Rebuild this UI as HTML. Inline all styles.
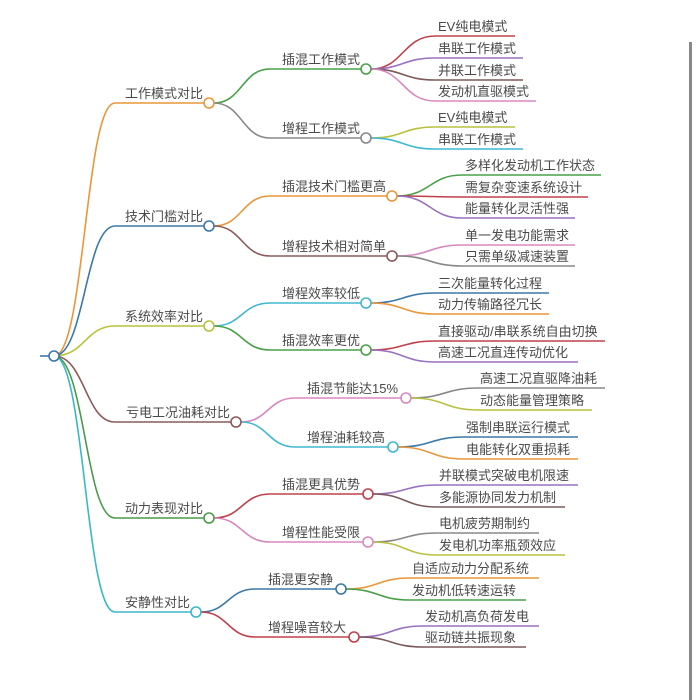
<!DOCTYPE html>
<html><head><meta charset="utf-8"><style>
html,body{margin:0;padding:0;background:#fff;}
svg{display:block;}
text{font-family:"Liberation Sans","Noto Sans CJK SC",sans-serif;font-size:13px;fill:#4a4a4a;}
path{fill:none;stroke-width:1.6;}
circle{fill:#fff;stroke-width:1.6;}
</style></head><body>
<svg width="700" height="700" viewBox="0 0 700 700">
<rect x="689" y="42" width="3" height="658" fill="#888"/>
<!-- root -->
<path d="M40 356 L49 356" stroke="#3a78a8"/>
<path d="M54 356 C85 356,85 103,115 103 L204 103" stroke="#e8973a"/>
<path d="M54 356 C85 356,85 226,115 226 L204 226" stroke="#3a78a8"/>
<path d="M54 356 C85 356,85 326,115 326 L204 326" stroke="#b8c23a"/>
<path d="M54 356 C85 356,85 422,115 422 L231 422" stroke="#8b5a5a"/>
<path d="M54 356 C85 356,85 518,115 518 L204 518" stroke="#4a9a4a"/>
<path d="M54 356 C85 356,85 612,115 612 L191 612" stroke="#3ab8c8"/>
<circle cx="54" cy="356" r="5" stroke="#3a78a8"/>
<text x="203" y="98" text-anchor="end">工作模式对比</text>
<text x="203" y="221" text-anchor="end">技术门槛对比</text>
<text x="203" y="321" text-anchor="end">系统效率对比</text>
<text x="230" y="417" text-anchor="end">亏电工况油耗对比</text>
<text x="203" y="513" text-anchor="end">动力表现对比</text>
<text x="190" y="607" text-anchor="end">安静性对比</text>

<!-- G1 -->
<path d="M214 103 C242 103,242 69,270 69 L361 69" stroke="#4aa04a"/>
<path d="M214 103 C242 103,242 138,270 138 L361 138" stroke="#888"/>
<text x="282" y="64">插混工作模式</text>
<text x="282" y="133">增程工作模式</text>
<path d="M371 69 C403 69,403 36,435 36 L515 36" stroke="#c0404a"/>
<path d="M371 69 C403 69,403 58,435 58 L523 58" stroke="#9a70c0"/>
<path d="M371 69 C403 69,403 80,435 80 L523 80" stroke="#7a5a5a"/>
<path d="M371 69 C403 69,403 101,435 101 L536 101" stroke="#d888c0"/>
<path d="M371 138 C403 138,403 127,435 127 L515 127" stroke="#b8c040"/>
<path d="M371 138 C403 138,403 149,435 149 L523 149" stroke="#40b8d0"/>
<circle cx="366" cy="69" r="5" stroke="#4aa04a"/>
<circle cx="366" cy="138" r="5" stroke="#888"/>
<text x="438" y="31">EV纯电模式</text>
<text x="438" y="53">串联工作模式</text>
<text x="438" y="75">并联工作模式</text>
<text x="438" y="96">发动机直驱模式</text>
<text x="438" y="122">EV纯电模式</text>
<text x="438" y="144">串联工作模式</text>

<!-- G2 -->
<path d="M214 226 C242 226,242 196,270 196 L387 196" stroke="#e8973a"/>
<path d="M214 226 C242 226,242 256,270 256 L387 256" stroke="#8b5a5a"/>
<text x="282" y="191">插混技术门槛更高</text>
<text x="282" y="251">增程技术相对简单</text>
<path d="M397 196 C430 196,430 175,462 175 L601 175" stroke="#4aa04a"/>
<path d="M397 196 C430 196,430 197,462 197 L588 197" stroke="#c0404a"/>
<path d="M397 196 C430 196,430 218,462 218 L575 218" stroke="#9a70c0"/>
<path d="M397 256 C430 256,430 245,462 245 L575 245" stroke="#d888c0"/>
<path d="M397 256 C430 256,430 266,462 266 L575 266" stroke="#888"/>
<circle cx="392" cy="196" r="5" stroke="#e8973a"/>
<circle cx="392" cy="256" r="5" stroke="#8b5a5a"/>
<text x="465" y="170">多样化发动机工作状态</text>
<text x="465" y="192">需复杂变速系统设计</text>
<text x="465" y="213">能量转化灵活性强</text>
<text x="465" y="240">单一发电功能需求</text>
<text x="465" y="261">只需单级减速装置</text>

<!-- G3 -->
<path d="M214 326 C242 326,242 303,270 303 L361 303" stroke="#40b8d0"/>
<path d="M214 326 C242 326,242 350,270 350 L361 350" stroke="#4aa04a"/>
<text x="282" y="298">增程效率较低</text>
<text x="282" y="345">插混效率更优</text>
<path d="M371 303 C403 303,403 293,435 293 L549 293" stroke="#3a78a8"/>
<path d="M371 303 C403 303,403 314,435 314 L549 314" stroke="#e8973a"/>
<path d="M371 350 C403 350,403 341,435 341 L605 341" stroke="#c0404a"/>
<path d="M371 350 C403 350,403 362,435 362 L578 362" stroke="#9a70c0"/>
<circle cx="366" cy="303" r="5" stroke="#40b8d0"/>
<circle cx="366" cy="350" r="5" stroke="#4aa04a"/>
<text x="438" y="288">三次能量转化过程</text>
<text x="438" y="309">动力传输路径冗长</text>
<text x="438" y="336">直接驱动/串联系统自由切换</text>
<text x="438" y="357">高速工况直连传动优化</text>

<!-- G4 -->
<path d="M241 422 C268 422,268 398,295 398 L401 398" stroke="#d888c0"/>
<path d="M241 422 C268 422,268 447,295 447 L388 447" stroke="#40b8d0"/>
<text x="307" y="393">插混节能达15%</text>
<text x="307" y="442">增程油耗较高</text>
<path d="M411 398 C445 398,445 388,478 388 L605 388" stroke="#888"/>
<path d="M411 398 C445 398,445 410,478 410 L592 410" stroke="#b8c040"/>
<path d="M398 447 C431 447,431 437,464 437 L578 437" stroke="#3a78a8"/>
<path d="M398 447 C431 447,431 459,464 459 L578 459" stroke="#e8973a"/>
<circle cx="406" cy="398" r="5" stroke="#d888c0"/>
<circle cx="393" cy="447" r="5" stroke="#40b8d0"/>
<text x="480" y="383">高速工况直驱降油耗</text>
<text x="480" y="405">动态能量管理策略</text>
<text x="466" y="432">强制串联运行模式</text>
<text x="466" y="454">电能转化双重损耗</text>

<!-- G5 -->
<path d="M214 518 C242 518,242 494,270 494 L363 494" stroke="#c0404a"/>
<path d="M214 518 C242 518,242 542,270 542 L363 542" stroke="#d888c0"/>
<text x="282" y="489">插混更具优势</text>
<text x="282" y="537">增程性能受限</text>
<path d="M373 494 C405 494,405 485,437 485 L578 485" stroke="#9a70c0"/>
<path d="M373 494 C405 494,405 507,437 507 L565 507" stroke="#7a5a5a"/>
<path d="M373 542 C405 542,405 533,437 533 L539 533" stroke="#888"/>
<path d="M373 542 C405 542,405 555,437 555 L565 555" stroke="#b8c040"/>
<circle cx="368" cy="494" r="5" stroke="#c0404a"/>
<circle cx="368" cy="542" r="5" stroke="#d888c0"/>
<text x="439" y="480">并联模式突破电机限速</text>
<text x="439" y="502">多能源协同发力机制</text>
<text x="439" y="528">电机疲劳期制约</text>
<text x="439" y="550">发电机功率瓶颈效应</text>

<!-- G6 -->
<path d="M201 612 C228 612,228 589,255 589 L336 589" stroke="#3a78a8"/>
<path d="M201 612 C228 612,228 637,255 637 L349 637" stroke="#c0404a"/>
<text x="268" y="584">插混更安静</text>
<text x="268" y="632">增程噪音较大</text>
<path d="M346 589 C378 589,378 578,410 578 L539 578" stroke="#e8973a"/>
<path d="M346 589 C378 589,378 600,410 600 L526 600" stroke="#4aa04a"/>
<path d="M359 637 C391 637,391 626,423 626 L539 626" stroke="#9a70c0"/>
<path d="M359 637 C391 637,391 647,423 647 L526 647" stroke="#7a5a5a"/>
<circle cx="341" cy="589" r="5" stroke="#3a78a8"/>
<circle cx="354" cy="637" r="5" stroke="#c0404a"/>
<text x="412" y="573">自适应动力分配系统</text>
<text x="412" y="595">发动机低转速运转</text>
<text x="425" y="621">发动机高负荷发电</text>
<text x="425" y="642">驱动链共振现象</text>

<circle cx="209" cy="103" r="5" stroke="#e8973a"/>
<circle cx="209" cy="226" r="5" stroke="#3a78a8"/>
<circle cx="209" cy="326" r="5" stroke="#b8c23a"/>
<circle cx="236" cy="422" r="5" stroke="#8b5a5a"/>
<circle cx="209" cy="518" r="5" stroke="#4a9a4a"/>
<circle cx="196" cy="612" r="5" stroke="#3ab8c8"/>
</svg>
</body></html>
